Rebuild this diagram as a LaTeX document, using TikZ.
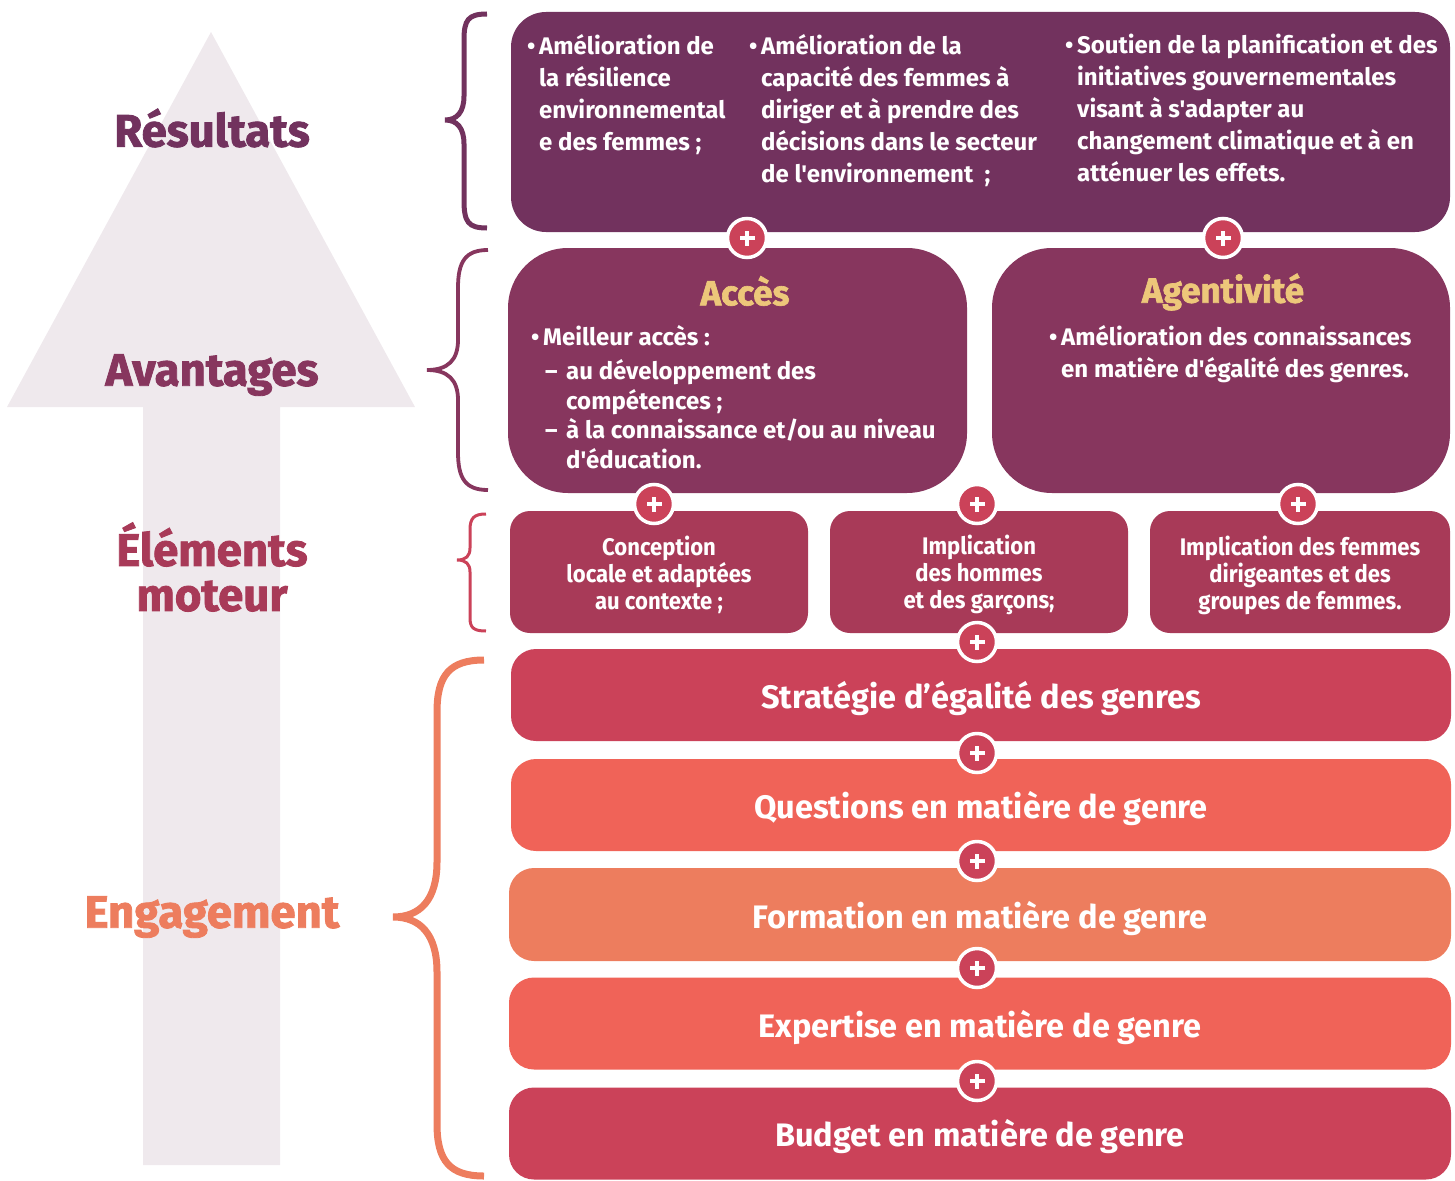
\documentclass[tikz,border=0pt]{standalone}
\usepackage{fontspec}
\newfontfamily\fira{Fira Sans}
\newfontfamily\firacond{Fira Sans}[FakeStretch=0.92]
\newfontfamily\firaheavy{Fira Sans}[BoldFeatures={FakeBold=1.8}]
\definecolor{cRes}{HTML}{72325E}
\definecolor{cAv}{HTML}{87365E}
\definecolor{cDrv}{HTML}{A83A58}
\definecolor{cStr}{HTML}{CB4259}
\definecolor{cQue}{HTML}{F06358}
\definecolor{cFor}{HTML}{ED7D5E}
\definecolor{cGold}{HTML}{EDC77A}
\definecolor{cArrow}{HTML}{EFE9ED}
\newcommand{\bul}{\makebox[12pt][l]{•}}
\newcommand{\ind}{\hspace*{12pt}}
\tikzset{
  box/.style={draw=none, inner sep=0pt},
  plus/.style={circle, fill=cStr, draw=white, line width=3.5pt, minimum size=39pt, inner sep=0pt,
    path picture={
      \fill[white] ([xshift=-7.5pt,yshift=-2.2pt]path picture bounding box.center) rectangle ([xshift=7.5pt,yshift=2.2pt]path picture bounding box.center);
      \fill[white] ([xshift=-2.2pt,yshift=-7.5pt]path picture bounding box.center) rectangle ([xshift=2.2pt,yshift=7.5pt]path picture bounding box.center);}},
  body/.style={text=white, align=left, inner sep=0pt, font=\fira\bfseries\fontsize{24}{32}\selectfont},
  drvtext/.style={text=white, align=center, inner sep=0pt, font=\firacond\bfseries\fontsize{24}{27}\selectfont},
  bartext/.style={text=white, inner sep=0pt, font=\fira\bfseries\fontsize{32.5}{32.5}\selectfont},
  boxtitle/.style={text=cGold, inner sep=0pt, font=\firaheavy\bfseries\fontsize{35}{35}\selectfont},
  sidelabel/.style={inner sep=0pt, align=center, font=\firaheavy\bfseries\fontsize{45.5}{45}\selectfont},
}
\begin{document}
\begin{tikzpicture}[x=1pt,y=-1pt]
\useasboundingbox (0,0) rectangle (1455,1180);

% big background arrow
\fill[cArrow] (7,407) -- (211,32) -- (415,407) -- (280,407) -- (280,1165) -- (143,1165) -- (143,407) -- cycle;

% side labels
\node[sidelabel, text=cRes] (lres) at (212,128) {Résultats};
\node[sidelabel, text=cAv] (lav) at (212,375) {Avantages};
\node[sidelabel, text=cDrv] (ldrv) at (212,567) {Éléments\\moteur};
\node[sidelabel, text=cFor] (leng) at (212,917) {Engagement};

% braces
\draw[cRes, line width=5pt] (487,14) .. controls (468,14) and (464,20) .. (464,40) -- (464,96) .. controls (464,112) and (457,120) .. (445,120) .. controls (457,120) and (464,128) .. (464,144) -- (464,200) .. controls (464,222) and (468,228) .. (487,228);
\draw[cAv, line width=3.8pt] (488,250) .. controls (465,250) and (458,262) .. (458,288) -- (458,340) .. controls (458,360) and (448,370) .. (427,370) .. controls (448,370) and (458,380) .. (458,400) -- (458,452) .. controls (458,478) and (465,490) .. (488,490);
\draw[cStr, line width=3pt] (486,514) .. controls (474,514) and (470,518) .. (470,530) -- (470,548) .. controls (470,556) and (466,560) .. (457,560) .. controls (466,560) and (470,564) .. (470,572) -- (470,618) .. controls (470,628) and (474,631) .. (486,631);
\draw[cFor, line width=7pt] (484,660) .. controls (450,660) and (437,675) .. (437,712) -- (437,862) .. controls (437,900) and (420,917) .. (393,917) .. controls (420,917) and (437,934) .. (437,972) -- (437,1124) .. controls (437,1161) and (450,1176) .. (484,1176);

% Resultats box
\node[box, fill=cRes, minimum width=939pt, minimum height=220pt, rounded corners=35pt] (res) at (980.5,122) {};
\node[body, anchor=north west] (res1) at (527,34) {\bul Amélioration de\\\ind la résilience\\\ind environnemental\\\ind e des femmes ;};
\node[body, anchor=north west] (res2) at (749,34) {\bul Amélioration de la\\\ind capacité des femmes à\\\ind diriger et à prendre des\\\ind décisions dans le secteur\\\ind de l'environnement\ \ ;};
\node[body, anchor=north west] (res3) at (1065,34) {\bul Soutien de la planification et des\\\ind initiatives gouvernementales\\\ind visant à s'adapter au\\\ind changement climatique et à en\\\ind atténuer les effets.};

% Avantages boxes
\node[box, fill=cAv, minimum width=459pt, minimum height=245pt, rounded corners=60pt] (acc) at (737.5,370.5) {};
\node[box, fill=cAv, minimum width=458pt, minimum height=245pt, rounded corners=60pt] (agt) at (1221,370.5) {};
\node[boxtitle] (tacc) at (745,291) {Accès};
\node[boxtitle] (tagt) at (1223,292) {Agentivité};
\node[body, anchor=north west, font=\fira\bfseries\fontsize{24}{29.5}\selectfont] (accl) at (531,325) {\bul Meilleur accès :\\[5pt]\hspace*{14pt}\makebox[21pt][l]{–}au développement des\\\hspace*{35pt}compétences ;\\\hspace*{14pt}\makebox[21pt][l]{–}à la connaissance et/ou au niveau\\\hspace*{35pt}d'éducation.};
\node[body, anchor=north west] (agtl) at (1049,325) {\bul Amélioration des connaissances\\\ind en matière d'égalité des genres.};

% drivers
\node[box, fill=cDrv, minimum width=298pt, minimum height=122pt, rounded corners=20pt] (d1) at (659,572) {};
\node[box, fill=cDrv, minimum width=298pt, minimum height=122pt, rounded corners=20pt] (d2) at (979,572) {};
\node[box, fill=cDrv, minimum width=300pt, minimum height=122pt, rounded corners=20pt] (d3) at (1300,572) {};
\node[drvtext] (d1t) at (659,575) {Conception\\locale et adaptées\\au contexte ;};
\node[drvtext] (d2t) at (979,575) {Implication\\des hommes\\et des garçons;};
\node[drvtext] (d3t) at (1300,575) {Implication des femmes\\dirigeantes et des\\groupes de femmes.};

% engagement bars
\node[box, fill=cStr, minimum width=940pt, minimum height=92pt, rounded corners=25pt] (e1) at (981,695) {};
\node[box, fill=cQue, minimum width=940pt, minimum height=92pt, rounded corners=25pt] (e2) at (981,805) {};
\node[box, fill=cFor, minimum width=942pt, minimum height=93pt, rounded corners=25pt] (e3) at (980,914.5) {};
\node[box, fill=cQue, minimum width=942pt, minimum height=92pt, rounded corners=25pt] (e4) at (980,1023.5) {};
\node[box, fill=cStr, minimum width=942pt, minimum height=92pt, rounded corners=25pt] (e5) at (980,1133.5) {};
\node[bartext] (e1t) at (981,699) {Stratégie d’égalité des genres};
\node[bartext] (e2t) at (981,809) {Questions en matière de genre};
\node[bartext] (e3t) at (980,919) {Formation en matière de genre};
\node[bartext] (e4t) at (980,1028) {Expertise en matière de genre};
\node[bartext] (e5t) at (980,1137) {Budget en matière de genre};

% plus signs
\node[plus] (p1) at (747,238) {};
\node[plus] (p2) at (1223,238) {};
\node[plus] (p3) at (654,504) {};
\node[plus] (p4) at (977,504) {};
\node[plus] (p5) at (1298,504) {};
\node[plus] (p6) at (977,642) {};
\node[plus] (p7) at (977,753) {};
\node[plus] (p8) at (977,861) {};
\node[plus] (p9) at (977,968) {};
\node[plus] (p10) at (977,1081) {};
\end{tikzpicture}
\end{document}
